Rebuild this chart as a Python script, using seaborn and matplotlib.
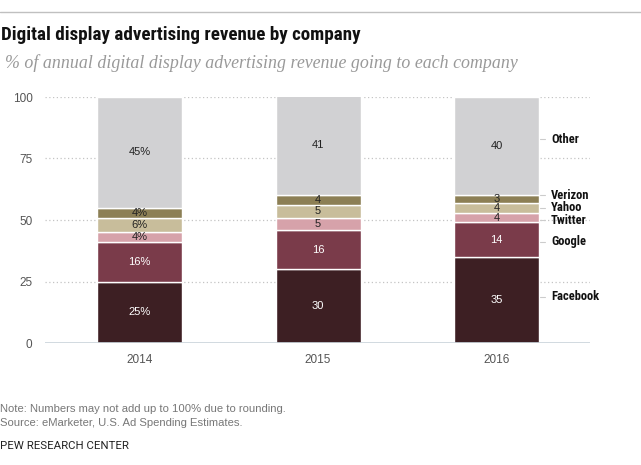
import matplotlib
matplotlib.use("Agg")
import matplotlib.pyplot as plt
import seaborn as sns
from matplotlib.lines import Line2D

# data
years = ["2014", "2015", "2016"]
companies = ["Facebook", "Google", "Twitter", "Yahoo", "Verizon", "Other"]
facebook = [25, 30, 35]
google = [16, 16, 14]
twitter = [4, 5, 4]
yahoo = [6, 5, 4]
verizon = [4, 4, 3]
other = [45, 41, 40]
yticks = [0, 25, 50, 75, 100]

shares = [facebook, google, twitter, yahoo, verizon, other]
colors = ["#3d1f23", "#7a3b4a", "#d6a2aa", "#c8bd9b", "#8c7f55", "#d1d1d3"]
text_colors = ["white", "white", "#222222", "#222222", "#222222", "#222222"]

sns.set_style("white")
narrow = ["Roboto Condensed", "Liberation Sans", "DejaVu Sans"]
plain = ["Liberation Sans", "DejaVu Sans"]

fig = plt.figure(figsize=(6.41, 4.65), dpi=100)
ax = fig.add_axes([45 / 641, 1 - 343 / 465, 545 / 641, 246 / 465])

bar_w = 0.476
bottoms = [0, 0, 0]
mids = []
for name, vals, c in zip(companies, shares, colors):
    sns.barplot(x=years, y=vals, bottom=bottoms, color=c, width=bar_w,
                errorbar=None, edgecolor="white", linewidth=1.0, ax=ax,
                saturation=1, zorder=3)
    mids.append([b + v / 2 for b, v in zip(bottoms, vals)])
    bottoms = [b + v for b, v in zip(bottoms, vals)]

# value labels inside segments
for k, (vals, tc) in enumerate(zip(shares, text_colors)):
    for i, v in enumerate(vals):
        lab = f"{v}%" if i == 0 else f"{v}"
        ax.text(i, mids[k][i], lab, ha="center", va="center", fontsize=8,
                color=tc, family=plain, zorder=5)

# company labels at right of last bar, spread a little so they don't collide
nudge = {"Facebook": 1.2, "Google": -0.9, "Twitter": -1.0, "Verizon": 1.6, "Other": 2.9}
x_edge = len(years) - 1 + bar_w / 2
for k, name in enumerate(companies):
    y = mids[k][-1] + nudge.get(name, 0)
    ax.add_line(Line2D([x_edge + 0.005, x_edge + 0.035], [y, y], color="#cccccc",
                       lw=0.8, zorder=4, clip_on=False))
    ax.text(x_edge + 0.067, y, name, ha="left", va="center", fontsize=9,
            fontweight="bold", color="#111111", family=narrow)

ax.set_xlim(-0.53, 2.524)
ax.set_ylim(0, 100)
ax.set_yticks(yticks)
ax.set_yticklabels([str(t) for t in yticks], family=plain, fontsize=8.5, color="#555555")
ax.set_xticklabels(years, family=plain, fontsize=8.5, color="#555555")
ax.tick_params(axis="y", length=0, pad=9)
ax.tick_params(axis="x", length=0, pad=8)
ax.set_xlabel("")
ax.set_ylabel("")
for t in [25, 50, 75, 100]:
    ax.axhline(t, color="#c4c4c4", lw=0.9, ls=(0, (1, 2)), zorder=1)
ax.axhline(0, color="#c9d3da", lw=1.2, zorder=4)
sns.despine(ax=ax, left=True, bottom=True)

# header and footer
fig.add_artist(Line2D([0, 1], [1 - 12 / 465] * 2, color="#c0c0c0", lw=1,
                      transform=fig.transFigure))
fig.text(0.002, 1 - 35 / 465, "Digital display advertising revenue by company",
         fontsize=13.7, fontweight="bold", color="#111111", va="center", family=narrow)
fig.text(0.008, 1 - 63 / 465,
         "% of annual digital display advertising revenue going to each company",
         fontsize=12.9, style="italic", color="#999999", va="center",
         family=["Liberation Serif", "DejaVu Serif"])
fig.text(0.0, 1 - 409 / 465, "Note: Numbers may not add up to 100% due to rounding.",
         fontsize=8.1, color="#777777", va="center", family=plain)
fig.text(0.0, 1 - 423 / 465, "Source: eMarketer, U.S. Ad Spending Estimates.",
         fontsize=8.1, color="#777777", va="center", family=plain)
fig.text(0.0, 1 - 446 / 465, "PEW RESEARCH CENTER",
         fontsize=8.2, color="#222222", va="center", family=["Roboto", "DejaVu Sans"])

fig.savefig("out.png", dpi=100)
